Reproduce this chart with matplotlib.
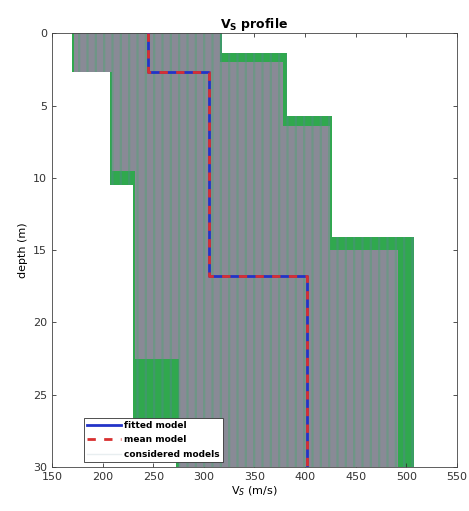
import numpy as np
import matplotlib
matplotlib.use("Agg")
import matplotlib.pyplot as plt
from matplotlib.lines import Line2D

plt.rcParams.update({
    "font.family": "DejaVu Sans",
    "font.size": 8,
    "xtick.direction": "in",
    "ytick.direction": "in",
    "xtick.top": True,
    "ytick.right": True,
    "hatch.linewidth": 1.6,
})

# ── Data ─────────────────────────────────────────────────────────────────────
# outer envelope of all considered models (depth breaks, min / max Vs per interval)
env_depth = [0, 1.4, 2.7, 5.7, 10.5, 14.1, 29.0, 30]
env_vmin  = [170, 170, 207, 207, 230, 230, 272]
env_vmax  = [318, 382, 382, 427, 427, 508, 508]

# dense core of the considered models
core_depth = [0, 2.0, 2.7, 6.4, 9.5, 15.0, 22.5, 29.0, 30]
core_vmin  = [172, 172, 209, 209, 232, 232, 275, 275]
core_vmax  = [316, 378, 378, 425, 425, 492, 492, 492]

# fitted (best) and mean model
best_depth = [0, 2.7, 16.8, 30]
best_vs    = [245, 305, 402]
mean_depth = [0, 2.7, 16.8, 30]
mean_vs    = [245, 305, 402]


def step_xy(depth, vs):
    x, y = [], []
    for i, v in enumerate(vs):
        x += [v, v]
        y += [depth[i], depth[i + 1]]
    return x, y


def fill_envelope(ax, depth, vmin, vmax, z, **kw):
    for i in range(len(vmin)):
        ax.fill_betweenx([depth[i], depth[i + 1]], vmin[i], vmax[i],
                         lw=0, zorder=z, **kw)


fig = plt.figure(figsize=(4.69, 5.11), dpi=100)
ax = fig.add_axes([0.111, 0.086, 0.863, 0.849])

fill_envelope(ax, env_depth, env_vmin, env_vmax, 1,
              facecolor="#30a84e", edgecolor="#3f9a6a", hatch="||")
fill_envelope(ax, core_depth, core_vmin, core_vmax, 2,
              facecolor="#898a96", edgecolor="#6e9686", hatch="||")

bx, by = step_xy(best_depth, best_vs)
ax.plot(bx, by, color="#2233c8", lw=2, zorder=4)
mx, my = step_xy(mean_depth, mean_vs)
ax.plot(mx, my, color="#d83030", lw=2, ls=(0, (3, 3)), zorder=5)

ax.set_xlim(150, 550)
ax.set_ylim(30, 0)
ax.set_xticks(np.arange(150, 551, 50))
ax.set_yticks(np.arange(0, 31, 5))
ax.tick_params(length=3, width=0.6, colors="#333333", labelsize=8)
for s in ax.spines.values():
    s.set_linewidth(0.6)
    s.set_color("#444444")

ax.set_title(r"V$_{\mathbf{S}}$ profile", fontsize=9, fontweight="bold", pad=4)
ax.set_xlabel(r"V$_{S}$ (m/s)", fontsize=8, labelpad=2)
ax.set_ylabel("depth (m)", fontsize=8, labelpad=4)

handles = [
    Line2D([0], [0], color="#2233c8", lw=2, label="fitted model"),
    Line2D([0], [0], color="#d83030", lw=2, ls=(0, (3, 3)), label="mean model"),
    Line2D([0], [0], color="#e8eef0", lw=1, label="considered models"),
]
leg = ax.legend(handles=handles, loc="lower left",
                bbox_to_anchor=(0.078, 0.012), fontsize=6.5,
                frameon=True, fancybox=False, framealpha=1,
                edgecolor="#333333", borderaxespad=0,
                handlelength=3.8, handletextpad=0.3,
                labelspacing=0.6, borderpad=0.35)
leg.get_frame().set_linewidth(0.6)
for t in leg.get_texts():
    t.set_fontweight("bold")

fig.savefig("out.png", dpi=100)
